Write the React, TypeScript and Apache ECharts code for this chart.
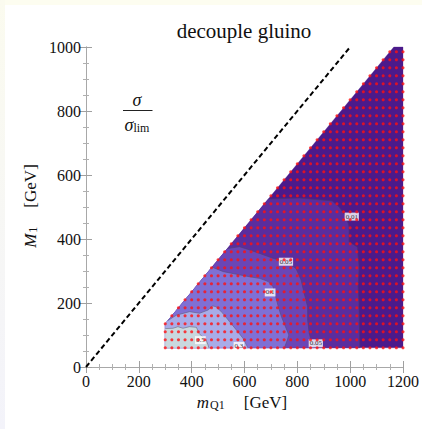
import React, { useEffect, useRef } from 'react';
import * as echarts from 'echarts';

// Axis ranges / ticks
const X_RANGE = [0, 1200];
const Y_RANGE = [0, 1000];
const TICK_STEP = 200;

// Sample grid (red dots): mQ1 and M1 values of the scan, kept where mQ1 - M1 >= MIN_GAP
const GRID_X = [300, 325, 350, 375, 400, 425, 450, 475, 500, 525, 550, 575, 600, 625, 650, 675, 700, 725, 750, 775, 800, 825, 850, 875, 900, 925, 950, 975, 1000, 1025, 1050, 1075, 1100, 1125, 1150, 1175, 1200];
const GRID_Y = [60, 85, 110, 135, 160, 185, 210, 235, 260, 285, 310, 335, 360, 385, 410, 435, 460, 485, 510, 535, 560, 585, 610, 635, 660, 685, 710, 735, 760, 785, 810, 835, 860, 885, 910, 935, 960, 985];
const MIN_GAP = 165;

// Scanned domain (outline)
const DOMAIN = [[300, 60], [1200, 60], [1200, 1000], [1165, 1000], [300, 135]];

// Contour lines of sigma/sigma_lim (data coordinates)
const C001 = [[690, 525], [808, 528], [932, 519], [958, 500], [985, 469], [996, 438], [996, 391], [1027, 375], [1034, 312], [1030, 250], [1033, 210], [1034, 169], [1037, 60]];
const C005 = [[535, 370], [581, 376], [619, 366], [657, 355], [707, 340], [757, 329], [795, 308], [814, 272], [826, 230], [839, 188], [839, 147], [845, 105], [852, 84], [864, 60]];
const C01 = [[477, 312], [520, 298], [581, 288], [619, 282], [657, 277], [690, 267], [708, 251], [718, 220], [728, 188], [740, 157], [755, 126], [768, 100], [762, 84], [751, 60]];
const C03 = [[310, 145], [342, 162], [392, 173], [430, 168], [462, 178], [480, 191], [493, 188], [518, 168], [543, 142], [569, 116], [594, 90], [613, 60]];
const C05 = [[300, 120], [329, 121], [348, 126], [367, 121], [392, 126], [418, 124], [428, 105], [440, 95], [455, 84], [462, 69], [465, 60]];

// Fill colours: below 0.01, 0.01-0.05, 0.05-0.1, 0.1-0.3, 0.3-0.5, above 0.5
const LEVEL_COLORS = ['#4b1a8b', '#5a2d9e', '#6a46b6', '#7f70d5', '#a8ace8', '#c9d8de'];

// Contour labels
const LABEL_NAMES = ['0.01', '0.05', '0.1', '0.05', '0.3', '0.5'];
const LABEL_POS = [[1006, 470], [757, 329], [697, 233], [870, 74], [579, 66], [433, 84]];

// Diagonal mQ1 = M1
const DIAGONAL = [[0, 0], [1000, 1000]];

const SERIF = "'Liberation Serif', 'DejaVu Serif', serif";

export default function App() {
  const ref = useRef<HTMLDivElement>(null);

  useEffect(() => {
    if (!ref.current) return;
    const chart = echarts.init(ref.current, null, { renderer: 'svg' });

    const regions = [
      DOMAIN,
      [...C001, [300, 60], [300, 135]],
      [...C005, [300, 60], [300, 135]],
      [...C01, [300, 60], [300, 135]],
      [...C03, [300, 60], [300, 135]],
      [...C05, [300, 60]],
    ];
    const contours = [C001, C005, C01, C03, C05];

    const dots: number[][] = [];
    GRID_Y.forEach((y) => {
      GRID_X.forEach((x) => {
        if (x - y >= MIN_GAP) dots.push([x, y]);
      });
    });

    const axisLine = { show: true, lineStyle: { color: '#a8a8a8', width: 1 } };
    const axisTick = { show: true, inside: true, length: 6, lineStyle: { color: '#a0a0a0' } };
    const minorTick = { show: true, splitNumber: 4, length: 3, lineStyle: { color: '#b0b0b0' } };
    const fmt = (v: number) => String(v);

    const option: any = {
      animation: false,
      backgroundColor: '#ffffff',
      grid: { left: 86, right: 18, top: 47, bottom: 62, containLabel: false },
      xAxis: [
        {
          type: 'value', min: X_RANGE[0], max: X_RANGE[1], interval: TICK_STEP, position: 'bottom',
          axisLine, axisTick, minorTick, splitLine: { show: false },
          axisLabel: { fontFamily: SERIF, fontSize: 16, color: '#111', margin: 6, formatter: fmt },
        },
        {
          type: 'value', min: X_RANGE[0], max: X_RANGE[1], interval: TICK_STEP, position: 'top',
          axisLine, axisTick, minorTick, splitLine: { show: false }, axisLabel: { show: false },
        },
      ],
      yAxis: [
        {
          type: 'value', min: Y_RANGE[0], max: Y_RANGE[1], interval: TICK_STEP, position: 'left',
          axisLine, axisTick, minorTick, splitLine: { show: false },
          axisLabel: { fontFamily: SERIF, fontSize: 16, color: '#111', margin: 5, formatter: fmt },
        },
        {
          type: 'value', min: Y_RANGE[0], max: Y_RANGE[1], interval: TICK_STEP, position: 'right',
          axisLine, axisTick, minorTick, splitLine: { show: false }, axisLabel: { show: false },
        },
      ],
      series: [
        {
          type: 'custom',
          xAxisIndex: 0,
          yAxisIndex: 0,
          z: 1,
          silent: true,
          data: [[0, 0]],
          renderItem: (_params: any, api: any) => {
            const children: any[] = [];
            regions.forEach((poly, i) => {
              children.push({
                type: 'polygon',
                shape: { points: poly.map((p) => api.coord(p)) },
                style: { fill: LEVEL_COLORS[i], stroke: LEVEL_COLORS[i], lineWidth: 0.3 },
              });
            });
            contours.forEach((c) => {
              children.push({
                type: 'polyline',
                shape: { points: c.map((p) => api.coord(p)) },
                style: { fill: 'none', stroke: 'rgba(70,60,90,0.55)', lineWidth: 0.8 },
              });
            });
            return { type: 'group', children };
          },
        },
        {
          type: 'line',
          data: DIAGONAL,
          z: 2,
          symbol: 'none',
          silent: true,
          lineStyle: { color: '#000', width: 2, type: [5, 3] },
        },
        {
          type: 'scatter',
          data: LABEL_NAMES.map((n, i) => ({ name: n, value: LABEL_POS[i] })),
          z: 3,
          symbolSize: 1,
          itemStyle: { color: 'rgba(0,0,0,0)' },
          silent: true,
          label: {
            show: true,
            position: 'inside',
            formatter: '{b}',
            fontFamily: SERIF,
            fontSize: 7,
            color: '#000',
            backgroundColor: '#ffffff',
            padding: [1, 1, 0, 1],
          },
        },
        {
          type: 'scatter',
          data: dots,
          z: 4,
          symbol: 'circle',
          symbolSize: 3.1,
          silent: true,
          itemStyle: { color: '#ff1010' },
        },
      ],
      graphic: [
        { type: 'rect', z: -10, shape: { x: 0, y: 0, width: 422, height: 5 }, style: { fill: '#fdfdf0' } },
        {
          type: 'rect', z: -10, shape: { x: 0, y: 0, width: 5, height: 429 },
          style: {
            fill: new echarts.graphic.LinearGradient(0, 0, 0, 1, [
              { offset: 0, color: '#fbfbef' },
              { offset: 1, color: '#f3f3fa' },
            ]),
          },
        },
        {
          type: 'text', x: 244, y: 31,
          style: { text: 'decouple gluino', font: `21px ${SERIF}`, fill: '#111', textAlign: 'center', textVerticalAlign: 'middle' },
        },
        {
          type: 'text', x: 242, y: 402,
          style: {
            text: '{it|m}{sub|Q1}{rm|[GeV]}',
            textAlign: 'center', textVerticalAlign: 'middle',
            rich: {
              it: { fontFamily: SERIF, fontSize: 17, fontStyle: 'italic', fill: '#111' },
              sub: { fontFamily: SERIF, fontSize: 12, fill: '#111', verticalAlign: 'bottom', padding: [6, 0, 0, 1] },
              rm: { fontFamily: SERIF, fontSize: 17, fill: '#111', padding: [0, 0, 0, 19] },
            },
          },
        },
        {
          type: 'text', x: 30, y: 206, rotation: Math.PI / 2,
          style: {
            text: '{it|M}{sub|1}{rm|[GeV]}',
            textAlign: 'center', textVerticalAlign: 'middle',
            rich: {
              it: { fontFamily: SERIF, fontSize: 17, fontStyle: 'italic', fill: '#111' },
              sub: { fontFamily: SERIF, fontSize: 12, fill: '#111', verticalAlign: 'bottom', padding: [6, 0, 0, 1] },
              rm: { fontFamily: SERIF, fontSize: 17, fill: '#111', padding: [0, 0, 0, 19] },
            },
          },
        },
        {
          type: 'text', x: 137, y: 100,
          style: { text: 'σ', font: `italic 18px ${SERIF}`, fill: '#111', textAlign: 'center', textVerticalAlign: 'middle' },
        },
        {
          type: 'line', shape: { x1: 123, y1: 110.5, x2: 152.5, y2: 110.5 },
          style: { stroke: '#222', lineWidth: 1 },
        },
        {
          type: 'text', x: 137, y: 125,
          style: {
            text: '{it|σ}{sub|lim}',
            textAlign: 'center', textVerticalAlign: 'middle',
            rich: {
              it: { fontFamily: SERIF, fontSize: 18, fontStyle: 'italic', fill: '#111' },
              sub: { fontFamily: SERIF, fontSize: 12, fill: '#111', verticalAlign: 'bottom', padding: [5, 0, 0, 0] },
            },
          },
        },
      ],
    };

    chart.setOption(option);
    return () => chart.dispose();
  }, []);

  return (
    <div
      ref={ref}
      style={{ position: 'absolute', left: 0, top: 0, width: 422, height: 429 }}
    />
  );
}
